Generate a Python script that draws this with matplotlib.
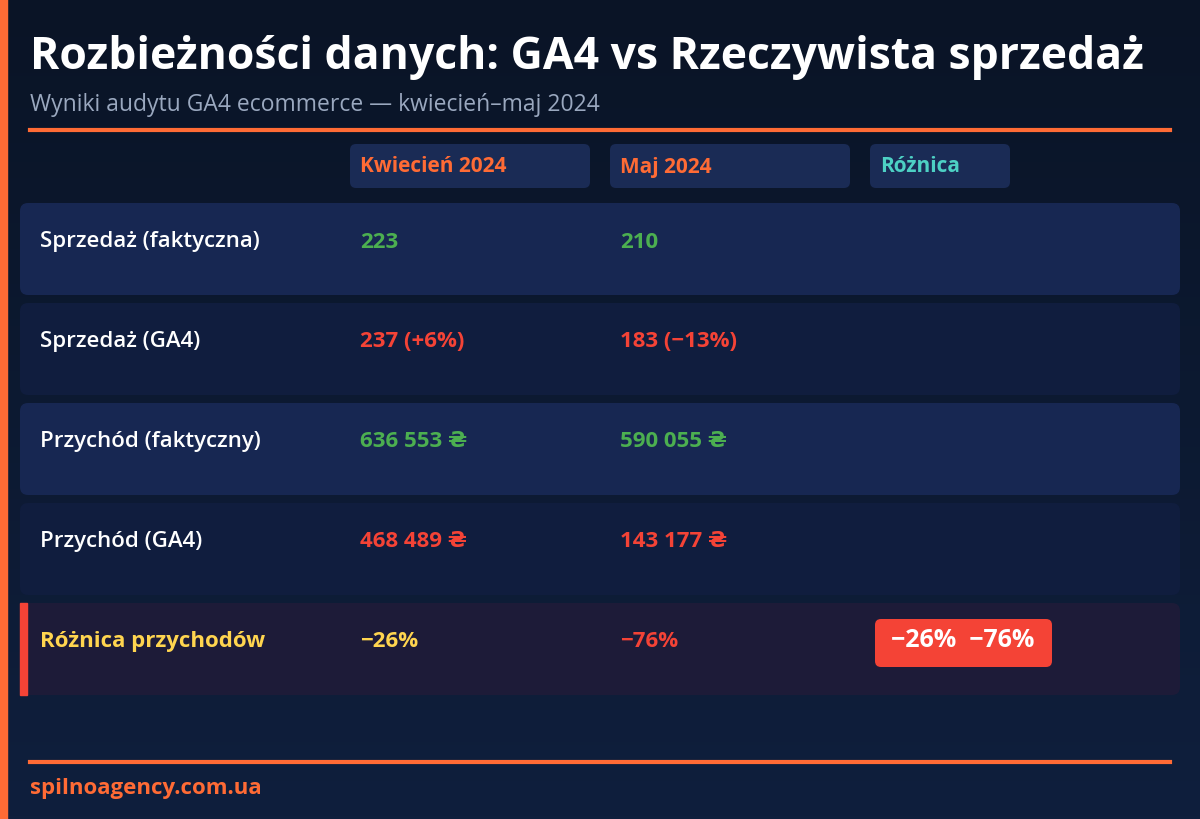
import matplotlib
matplotlib.use("Agg")
import matplotlib.pyplot as plt
from matplotlib.patches import FancyBboxPatch, Rectangle
from matplotlib.colors import LinearSegmentedColormap
import numpy as np

title = "Rozbieżności danych: GA4 vs Rzeczywista sprzedaż"
subtitle = "Wyniki audytu GA4 ecommerce — kwiecień–maj 2024"
headers = ["Kwiecień 2024", "Maj 2024", "Różnica"]
row_labels = ["Sprzedaż (faktyczna)", "Sprzedaż (GA4)", "Przychód (faktyczny)", "Przychód (GA4)", "Różnica przychodów"]
april = ["223", "237 (+6%)", "636 553 ₴", "468 489 ₴", "−26%"]
may = ["210", "183 (−13%)", "590 055 ₴", "143 177 ₴", "−76%"]
april_colors = ["#4caf50", "#f44336", "#4caf50", "#f44336", "#ffd54f"]
may_colors = ["#4caf50", "#f44336", "#4caf50", "#f44336", "#f44336"]
badge = "−26%  −76%"
footer = "spilnoagency.com.ua"

plt.rcParams['font.family'] = ['Open Sans', 'DejaVu Sans']
ORANGE = "#ff6b35"
fig = plt.figure(figsize=(12, 8.2), dpi=100)
ax = fig.add_axes([0, 0, 1, 1])
ax.set_xlim(0, 1200); ax.set_ylim(820, 0); ax.axis("off")

grad = np.linspace(0, 1, 256).reshape(-1, 1)
cm = LinearSegmentedColormap.from_list("bg", ["#0a1426", "#0f1f3d"])
ax.imshow(grad, extent=[0, 1200, 820, 0], cmap=cm, aspect="auto", zorder=0)
ax.add_patch(Rectangle((0, 0), 7, 820, color=ORANGE, zorder=1))

ax.text(30, 58, title, fontsize=32, fontweight="bold", color="white", va="center", zorder=3, clip_on=True)
ax.text(30, 105, subtitle, fontsize=16.5, color="#9aa8bf", va="center", zorder=3)
ax.plot([30, 1170], [131, 131], color=ORANGE, lw=3, zorder=2)

hx = [(350, 240), (610, 240), (870, 140)]
hcol = [ORANGE, ORANGE, "#4dd0c4"]
for (x, w), h, c in zip(hx, headers, hcol):
    ax.add_patch(FancyBboxPatch((x, 145), w, 44, boxstyle="round,pad=0,rounding_size=6", fc="#1a2b55", ec="none", zorder=2))
    ax.text(x + 10, 167, h, fontsize=15, fontweight="bold", color=c, va="center", zorder=3)

row_bg = ["#172752", "#101d3e", "#172752", "#101d3e", "#1d1b38"]
for i, lab in enumerate(row_labels):
    y = 204 + i * 100
    ax.add_patch(FancyBboxPatch((20, y), 1160, 92, boxstyle="round,pad=0,rounding_size=8", fc=row_bg[i], ec="none", zorder=2))
    cy = y + 38
    last = i == len(row_labels) - 1
    ax.text(40, cy, lab, fontsize=16, fontweight="bold" if last else "semibold",
            color="#ffd54f" if last else "white", va="center", zorder=3)
    ax.text(360, cy, april[i], fontsize=16, fontweight="bold", color=april_colors[i], va="center", zorder=3)
    ax.text(620, cy, may[i], fontsize=16, fontweight="bold", color=may_colors[i], va="center", zorder=3)
    if last:
        ax.add_patch(Rectangle((20, y), 7, 92, color="#f44336", zorder=3))
        ax.add_patch(FancyBboxPatch((875, 620), 177, 48, boxstyle="round,pad=0,rounding_size=6", fc="#f44336", ec="none", zorder=3))
        ax.text(963, 641, badge, fontsize=18, fontweight="bold", color="white", va="center", ha="center", zorder=4)

ax.plot([30, 1170], [763, 763], color=ORANGE, lw=3, zorder=2)
ax.text(30, 789, footer, fontsize=16, fontweight="bold", color=ORANGE, va="center", zorder=3)
fig.savefig("out.png", dpi=100)
